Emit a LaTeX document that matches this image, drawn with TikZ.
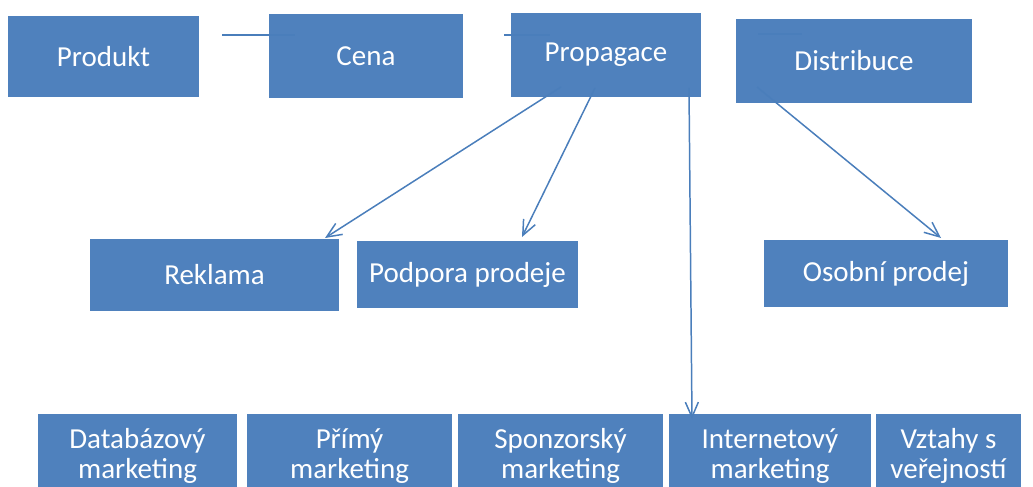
\documentclass[tikz,border=0pt]{standalone}
\usepackage{fontspec}
\setmainfont{Carlito}
\usepackage{tikz}
\usetikzlibrary{arrows.meta}
\definecolor{MxBlue}{HTML}{4F81BD}
\definecolor{MxLine}{HTML}{4A7EBB}

\begin{document}
\begin{tikzpicture}[
            mx/.style={rectangle, fill=MxBlue, text=white, inner sep=0pt,
                       minimum height=1.68cm, align=center,
                       font=\fontsize{16.5}{17.5}\selectfont},
            ln/.style={draw=MxLine, line width=0.85pt},
            arr/.style={ln, -{Straight Barb[length=0.3cm, width=0.26cm]}}
          ]
          \useasboundingbox (0,0) rectangle (20.66,9.72);

          % Marketing mix
          \node[mx, minimum width=3.82cm, minimum height=1.62cm] (produkt) at (2.07,8.59) {Produkt};
          \node[mx, minimum width=3.88cm] (cena)  at (7.32,8.60) {Cena};
          \node[mx, minimum width=3.80cm] (prop)  at (12.12,8.62) {Propagace};
          \node[mx, minimum width=4.72cm] (distr) at (17.08,8.50) {Distribuce};

          % Second level
          \node[mx, minimum width=4.98cm, minimum height=1.44cm] (rekl) at (4.29,4.22) {Reklama};
          \node[mx, minimum width=4.42cm, minimum height=1.34cm] (podp) at (9.35,4.23) {Podpora prodeje};
          \node[mx, minimum width=4.88cm, minimum height=1.34cm] (osob) at (17.72,4.25) {Osobní prodej};

          % Bottom row
          \node[mx, minimum width=3.98cm] (datab) at (2.75,0.60)  {Databázový\\marketing};
          \node[mx, minimum width=4.10cm] (primy) at (6.99,0.60)  {Přímý\\marketing};
          \node[mx, minimum width=4.10cm] (sponz) at (11.21,0.60) {Sponzorský\\marketing};
          \node[mx, minimum width=4.04cm] (inter) at (15.40,0.60) {Internetový\\marketing};
          \node[mx, minimum width=2.90cm] (vztah) at (18.97,0.60) {Vztahy s\\veřejností};

          % Short lines at the top
          \coordinate (c1a) at (4.44,9.02);  \coordinate (c1b) at (5.90,9.02);
          \coordinate (c2a) at (10.08,9.02); \coordinate (c2b) at (11.00,9.02);
          \coordinate (c3a) at (15.16,9.04); \coordinate (c3b) at (16.04,9.04);
          \draw[ln] (c1a) -- (c1b);
          \draw[ln] (c2a) -- (c2b);
          \draw[ln] (c3a) -- (c3b);

          % Arrows
          \coordinate (p1) at (11.22,7.98);
          \coordinate (p2) at (11.90,7.96);
          \coordinate (p3) at (13.78,7.96);
          \coordinate (d1) at (15.14,7.98);
          \coordinate (t1) at (6.50,4.96);
          \coordinate (t2) at (10.44,4.98);
          \coordinate (t3) at (13.84,1.34);
          \coordinate (t4) at (18.82,4.96);
          \draw[arr] (p1) -- (t1);
          \draw[arr] (p2) -- (t2);
          \draw[arr] (p3) -- (t3);
          \draw[arr] (d1) -- (t4);
        \end{tikzpicture}
\end{document}
